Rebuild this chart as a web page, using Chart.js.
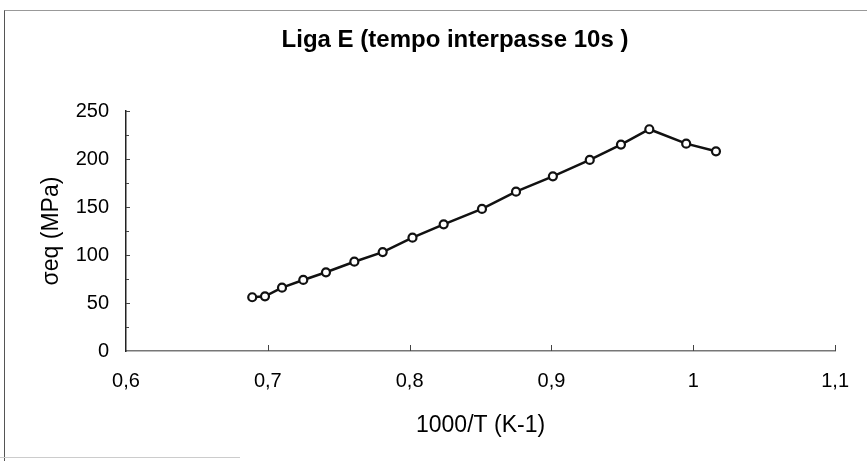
<!DOCTYPE html>
<html>
<head>
<meta charset="utf-8">
<script src="https://cdn.jsdelivr.net/npm/chart.js@4/dist/chart.umd.min.js"></script>
<style>
  html, body { margin: 0; padding: 0; background: #fff; }
  #wrap { position: relative; width: 867px; height: 461px; overflow: hidden; }
  #frame { position: absolute; left: 4px; top: 10px; width: 870px; height: 460px;
           border-left: 1px solid #555; border-top: 1px solid #999; }
  #foot { position: absolute; left: 0; top: 457px; width: 240px; height: 0; border-top: 1px solid #ccc; }
  canvas { position: absolute; left: 0; top: 0; }
</style>
</head>
<body>
<div id="wrap">
  <div id="frame"></div>
  <div id="foot"></div>
  <canvas id="chart" width="867" height="461"></canvas>
</div>
<script>
// 1000/T (K^-1) vs equivalent stress (MPa)
const invTemp = [0.689, 0.698, 0.710, 0.725, 0.741, 0.761, 0.781, 0.802, 0.824, 0.851,
                 0.875, 0.901, 0.927, 0.949, 0.969, 0.995, 1.016];
const sigmaEq = [56, 57, 66, 74, 82, 93, 103, 118, 132, 148,
                 166, 182, 199, 215, 231, 216, 208];

const TITLE = "Liga E (tempo interpasse 10s )";
const X_MIN = 0.6, X_MAX = 1.1, X_STEP = 0.1;
const Y_MIN = 0, Y_MAX = 250, Y_STEP = 50, Y_MINOR = 25;

const FONT = "'Liberation Sans', Arial, sans-serif";

// Excel-style tick marks drawn inward from the axes
const innerTicks = {
  id: "innerTicks",
  afterDatasetsDraw(chart) {
    const { ctx, chartArea: a, scales: { x, y } } = chart;
    ctx.save();
    ctx.strokeStyle = "#444";
    ctx.lineWidth = 1;
    for (let v = Y_MIN + Y_MINOR; v <= Y_MAX; v += Y_MINOR) {
      const py = Math.round(y.getPixelForValue(v)) + 0.5;
      const len = v % Y_STEP === 0 ? 4 : 3;
      ctx.beginPath(); ctx.moveTo(a.left, py); ctx.lineTo(a.left + len, py); ctx.stroke();
    }
    for (let i = 1; i <= Math.round((X_MAX - X_MIN) / X_STEP); i++) {
      const px = Math.round(x.getPixelForValue(X_MIN + i * X_STEP)) + 0.5;
      ctx.beginPath(); ctx.moveTo(px, a.bottom); ctx.lineTo(px, a.bottom - 6); ctx.stroke();
    }
    ctx.restore();
  }
};

// chart title sits a bit left of the plot centre, like the Excel original
const chartTitle = {
  id: "chartTitle",
  afterDraw(chart) {
    const ctx = chart.ctx;
    ctx.save();
    ctx.font = `bold 24px ${FONT}`;
    ctx.fillStyle = "#000";
    ctx.textAlign = "center";
    ctx.textBaseline = "middle";
    ctx.fillText(TITLE, 455, 40);
    ctx.restore();
  }
};

new Chart(document.getElementById("chart"), {
  type: "line",
  data: {
    datasets: [{
      data: invTemp.map((t, i) => ({ x: t, y: sigmaEq[i] })),
      borderColor: "#111",
      borderWidth: 2.5,
      pointRadius: 4,
      pointBorderWidth: 2.2,
      pointBorderColor: "#111",
      pointBackgroundColor: "#fff",
      tension: 0,
    }],
  },
  options: {
    responsive: false,
    animation: false,
    layout: { padding: { left: 0, right: 29, top: 111, bottom: 0 } },
    scales: {
      x: {
        type: "linear", min: X_MIN, max: X_MAX,
        ticks: {
          stepSize: X_STEP, color: "#000", padding: 18,
          font: { family: FONT, size: 20 },
          callback: (v) => Number(v.toFixed(1)).toString().replace(".", ","),
        },
        grid: { display: false, drawTicks: false },
        border: { display: true, color: "#777", width: 1.5 },
        title: { display: true, text: "1000/T (K-1)", color: "#000",
                 font: { family: FONT, size: 23 }, padding: { top: 10, bottom: 22 } },
        afterFit: (s) => { s.height = 110; },
      },
      y: {
        min: Y_MIN, max: Y_MAX,
        ticks: { stepSize: Y_STEP, color: "#000", padding: 17, font: { family: FONT, size: 20 } },
        grid: { display: false, drawTicks: false },
        border: { display: true, color: "#222", width: 1.5 },
        title: { display: true, text: "σeq (MPa)", color: "#000",
                 font: { family: FONT, size: 23 }, padding: { top: 38, bottom: 0 } },
        afterFit: (s) => { s.width = 126; },
      },
    },
    plugins: {
      legend: { display: false },
      tooltip: { enabled: false },
      title: { display: false },
    },
  },
  plugins: [innerTicks, chartTitle],
});
</script>
</body>
</html>
